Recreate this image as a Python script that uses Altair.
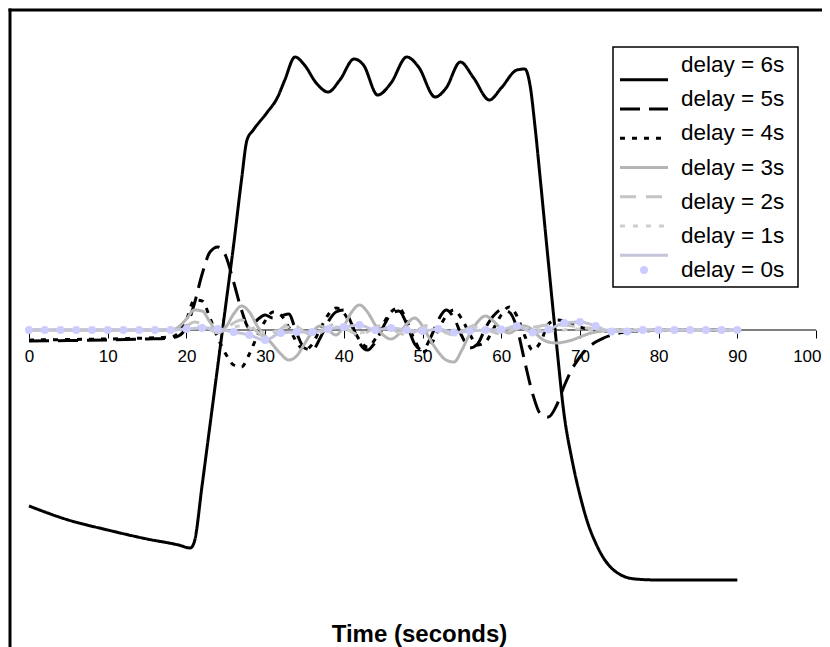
import altair as alt
import pandas as pd

SERIES = ["delay = 6s", "delay = 5s", "delay = 4s", "delay = 3s",
          "delay = 2s", "delay = 1s", "delay = 0s"]
COLORS = ["#000000", "#000000", "#000000", "#b4b4b4", "#c4c4c4", "#cdcdcd", "#c4c4da"]
DASHES = [[1, 0], [20, 9], [5, 7], [1, 0], [16, 10], [5, 8], [1, 0]]

X_TICKS = [0, 10, 20, 30, 40, 50, 60, 70, 80, 90, 100]

# delay = 6s
T6 = [0, 5, 10, 15, 19, 20.5, 21, 22, 23, 24, 25, 26, 27, 27.7, 28.5, 30.2, 31.6, 32.5,
      33.8, 35, 36.5, 38, 39.5, 41.3, 42.5, 44.3, 46, 48, 49.5, 51.6, 53, 54.8, 56.5, 58.5,
      60, 62, 63, 63.7, 64.3, 65, 66, 67, 68, 69, 70, 71, 72, 73, 74, 75, 77, 80, 85, 90]
V6 = [-17.6, -19.0, -20.0, -20.9, -21.5, -21.8, -21.2, -15.5, -9.5, -3.5, 2.5, 8.5, 15.0,
      19.0, 20.0, 21.7, 23.3, 25.0, 27.3, 26.5, 24.7, 23.8, 25.0, 27.1, 26.5, 23.5, 24.7,
      27.3, 26.3, 23.3, 24.2, 26.8, 25.2, 23.0, 24.2, 26.0, 26.1, 24.3, 20.3, 14.8, 6.7,
      -1.2, -8.5, -13.0, -16.5, -19.3, -21.3, -22.8, -23.8, -24.4, -24.9, -25.0, -25.0, -25.0]

# shared time grid for delays 5s .. 1s
T_OSC = [0, 5, 10, 15,
         18, 19, 20, 21, 22, 23, 24, 25, 26, 27,
         28, 29, 30, 31, 32, 33, 34, 35, 36, 37,
         38, 39, 40, 41, 42, 43, 44, 45, 46, 47,
         48, 49, 50, 51, 52, 53, 54, 55, 56, 57,
         58, 59, 60, 61, 62, 63, 64, 65, 66, 67,
         68, 69, 70, 71, 72, 73, 74, 75, 76, 77, 78,
         80, 85, 90]
V5 = [-1.1, -1.05, -1.0, -0.9,
      -0.8, -0.6, 0.3, 2.6, 5.6, 7.8, 8.3, 7.4, 4.8, 2.0,
      0.2, 1.0, 1.5, 1.2, 1.4, 1.6, -0.3, -1.8, -2.0, -0.8,
      0.8, 1.8, 2.0, 0.6, -1.3, -2.0, -1.2, 0.3, 1.6, 1.9,
      0.6, -1.4, -2.0, -0.8, 1.0, 2.0, 1.2, -0.6, -1.8, -1.4,
      0.2, 1.4, 2.0, 1.8, 0.2, -3.2, -6.4, -8.4, -8.7, -7.6,
      -5.6, -3.9, -2.7, -1.8, -1.2, -0.8, -0.5, -0.3, -0.2, -0.1, -0.1,
      0.0, 0.0, 0.0]
V4 = [-1.0, -0.95, -0.9, -0.8,
      -0.7, -0.3, 1.0, 3.0, 2.9, 1.2, -0.8, -2.4, -3.5, -3.7,
      -2.4, -0.6, 0.9, 1.8, 1.5, 0.3, -1.2, -2.0, -1.4, 0.1,
      1.5, 2.2, 1.7, 0.4, -1.0, -1.7, -0.9, 0.6, 1.8, 2.2,
      0.9, -1.0, -2.2, -1.6, 0.0, 1.4, 2.0, 1.1, -0.4, -1.5,
      -1.2, 0.1, 1.5, 2.3, 1.4, -0.6, -2.0, -1.2, 0.6, 1.0,
      0.9, 0.6, 0.3, 0.1, 0.0, -0.1, -0.1, 0.0, 0.0, 0.0, 0.0,
      0.0, 0.0, 0.0]
V3 = [0.0, 0.0, 0.0, 0.0,
      0.0, 0.3, 1.1, 2.0, 1.9, 0.8, -0.2, 0.3, 1.6, 2.4,
      1.8, 0.4, -0.6, -1.5, -2.4, -3.0, -2.6, -1.4, -0.2, 0.4,
      0.0, -0.5, 0.4, 1.8, 2.5, 1.8, 0.5, -0.5, -0.9, -0.4,
      0.6, 1.2, 0.4, -1.0, -2.2, -3.0, -3.2, -2.0, -0.4, 0.8,
      1.4, 0.9, 0.1, -0.3, 0.1, 0.4, 0.0, -0.8, -1.2, -1.3,
      -1.2, -1.0, -0.7, -0.4, -0.2, -0.1, 0.0, 0.0, 0.0, 0.0, 0.0,
      0.0, 0.0, 0.0]
V2 = [0.0, 0.0, 0.0, 0.0,
      0.0, 0.1, 0.4, 0.8, 0.6, 0.1, -0.3, 0.1, 0.7, 1.0,
      0.6, -0.2, -0.7, -0.5, 0.1, 0.6, 0.4, -0.2, -0.5, -0.3,
      0.3, 0.6, 0.3, -0.2, -0.5, -0.2, 0.3, 0.5, 0.2, -0.3,
      -0.5, -0.2, 0.3, 0.5, 0.2, -0.3, -0.5, -0.2, 0.3, 0.5,
      0.2, -0.2, -0.4, -0.1, 0.3, 0.4, 0.3, 0.4, 0.5, 0.5,
      0.5, 0.4, 0.3, 0.2, 0.1, 0.0, 0.0, 0.0, 0.0, 0.0, 0.0,
      0.0, 0.0, 0.0]
V1 = [0.0, 0.0, 0.0, 0.0,
      0.0, 0.0, 0.2, 0.4, 0.3, 0.0, -0.2, 0.0, 0.3, 0.4,
      0.2, -0.1, -0.3, -0.2, 0.1, 0.3, 0.2, -0.1, -0.3, -0.2,
      0.1, 0.3, 0.2, -0.1, -0.3, -0.1, 0.2, 0.3, 0.1, -0.2,
      -0.3, -0.1, 0.2, 0.3, 0.1, -0.2, -0.3, -0.1, 0.2, 0.3,
      0.1, -0.1, -0.2, 0.0, 0.2, 0.2, 0.1, 0.0, -0.1, -0.1,
      0.0, 0.1, 0.1, 0.0, 0.0, 0.0, 0.0, 0.0, 0.0, 0.0, 0.0,
      0.0, 0.0, 0.0]

# delay = 0s (with markers every 2 s)
T0 = [0, 2, 4, 6, 8, 10, 12, 14, 16, 18,
      20, 22, 24, 26, 28, 30, 32, 34, 36, 38,
      40, 42, 44, 46, 48, 50, 52, 54, 56, 58,
      60, 62, 64, 66, 68, 70, 72, 74, 76, 78,
      80, 82, 84, 86, 88, 90]
V0 = [0.0, 0.0, 0.0, 0.0, 0.0, 0.0, 0.0, 0.0, 0.0, 0.0,
      0.1, 0.2, 0.1, -0.2, -0.5, -1.0, -0.3, -0.2, -0.2, 0.1,
      0.3, 0.5, 0.0, 0.2, 0.0, -0.1, 0.1, -0.25, -0.1, 0.0,
      0.05, 0.4, -0.25, 0.05, 0.7, 0.8, 0.4, -0.15, -0.15, 0.0,
      0.0, 0.0, 0.0, 0.0, 0.0, 0.0]

rows = []
for t, v in zip(T6, V6):
    rows.append({"series": SERIES[0], "t": t, "v": v})
for name, vals in zip(SERIES[1:6], [V5, V4, V3, V2, V1]):
    for t, v in zip(T_OSC, vals):
        rows.append({"series": name, "t": t, "v": v})
for t, v in zip(T0, V0):
    rows.append({"series": SERIES[6], "t": t, "v": v})
df = pd.DataFrame(rows)
df0 = pd.DataFrame({"series": SERIES[6], "t": T0, "v": V0})
legend_df = pd.DataFrame({"series": SERIES})
axis_df = pd.DataFrame({"x": [X_TICKS[0]], "x2": [X_TICKS[-1]], "y": [0]})

W, H = 812, 660
FONT = "Liberation Sans"
x_scale = alt.Scale(domain=[-2.414, 100.76], nice=False, zero=False)
y_scale = alt.Scale(domain=[-34, 32], nice=False, zero=False)
color_scale = alt.Scale(domain=SERIES, range=COLORS)
dash_scale = alt.Scale(domain=SERIES, range=DASHES)
leg_y = alt.Y("series:N", sort=SERIES,
              scale=alt.Scale(domain=SERIES, range=[55, 260], padding=0), axis=None)

last_tick = "datum.value == %d" % X_TICKS[-1]
x_axis = alt.Axis(values=X_TICKS, domain=False, grid=False, ticks=True, tickSize=8,
                  tickColor="black", tickWidth=1, labelFontSize=17, labelFont=FONT,
                  labelColor="black", labelBaseline="alphabetic", labelPadding=23,
                  labelAlign={"condition": {"test": last_tick, "value": "right"},
                              "value": "center"},
                  labelOffset={"condition": {"test": last_tick, "value": 5},
                               "value": 0},
                  labelFlush=False, labelOverlap=False, offset=-340, title="Time (seconds)",
                  titleFont=FONT, titleFontSize=24, titleFontWeight="bold",
                  titleColor="black", titleBaseline="alphabetic", titleY=311, titleX=409)

# outer frame (left and top edges are what is visible in the reference)
frame_left = alt.Chart(pd.DataFrame({"a": [0]})).mark_rule(
    color="black", strokeWidth=3).encode(
    x=alt.value(0), y=alt.value(-1.5), y2=alt.value(H))
frame_top = alt.Chart(pd.DataFrame({"a": [0]})).mark_rule(
    color="black", strokeWidth=3).encode(
    x=alt.value(-1.5), x2=alt.value(W), y=alt.value(0))

axis_rule = alt.Chart(axis_df).mark_rule(color="black", strokeWidth=1).encode(
    x=alt.X("x:Q", scale=x_scale, axis=x_axis),
    x2="x2:Q",
    y=alt.Y("y:Q", scale=y_scale, axis=None),
)

lines = alt.Chart(df).mark_line(strokeWidth=3, interpolate="monotone").encode(
    x=alt.X("t:Q", scale=x_scale),
    y=alt.Y("v:Q", scale=y_scale, axis=None),
    color=alt.Color("series:N", scale=color_scale, legend=None),
    strokeDash=alt.StrokeDash("series:N", scale=dash_scale, legend=None),
    detail="series:N",
)

dots = alt.Chart(df0).mark_circle(size=64, color="#ccccff", opacity=1).encode(
    x=alt.X("t:Q", scale=x_scale),
    y=alt.Y("v:Q", scale=y_scale, axis=None),
)

leg_box = alt.Chart(pd.DataFrame({"a": [0]})).mark_rect(
    fill="white", stroke="black", strokeWidth=1.5).encode(
    x=alt.value(603), x2=alt.value(788), y=alt.value(37), y2=alt.value(277))

leg_lines = alt.Chart(legend_df).mark_rule(strokeWidth=3).encode(
    x=alt.value(610), x2=alt.value(658), y=leg_y,
    color=alt.Color("series:N", scale=color_scale, legend=None),
    strokeDash=alt.StrokeDash("series:N", scale=dash_scale, legend=None),
)

leg_dot = alt.Chart(legend_df).transform_filter(
    alt.datum.series == SERIES[6]).mark_circle(size=64, color="#ccccff", opacity=1).encode(
    x=alt.value(634), y=leg_y)

leg_text = alt.Chart(legend_df).mark_text(
    align="left", baseline="middle", fontSize=22.5, font=FONT, color="black").encode(
    x=alt.value(671), y=leg_y, text="series:N")

chart = alt.layer(frame_left, frame_top, axis_rule, lines, dots,
                  leg_box, leg_lines, leg_dot, leg_text).resolve_scale(
    y="independent"
).properties(
    width=W, height=H, autosize="none",
    padding={"left": 2, "top": 2, "right": 0, "bottom": 0},
    background="white",
).configure_view(stroke=None)

chart.save("out.html", embed_options={"renderer": "svg", "actions": False})
